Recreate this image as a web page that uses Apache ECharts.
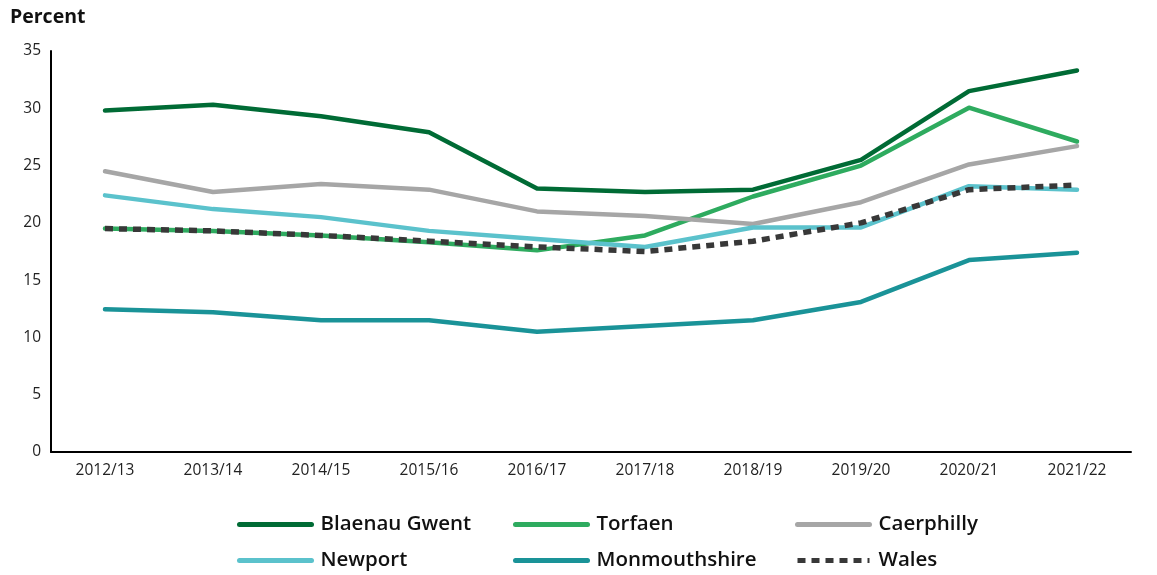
<!DOCTYPE html>
<html><head><meta charset="utf-8">
<script src="https://cdn.jsdelivr.net/npm/echarts@6/dist/echarts.min.js"></script>
<style>html,body{margin:0;padding:0;background:#fff}#c{width:1157px;height:575px}</style>
</head><body><div id="c"></div>
<script>
const categories = ['2012/13','2013/14','2014/15','2015/16','2016/17','2017/18','2018/19','2019/20','2020/21','2021/22'];
const blaenauGwent = [29.8,30.3,29.3,27.9,23.0,22.7,22.9,25.5,31.5,33.3];
const torfaen = [19.5,19.3,18.9,18.3,17.6,18.9,22.3,25.0,30.05,27.1];
const caerphilly = [24.5,22.7,23.4,22.9,21.0,20.6,19.9,21.8,25.1,26.7];
const newport = [22.4,21.2,20.5,19.3,18.6,17.9,19.6,19.6,23.2,22.9];
const monmouthshire = [12.45,12.2,11.5,11.5,10.5,11.0,11.5,13.1,16.75,17.4];
const wales = [19.5,19.3,18.9,18.4,17.9,17.5,18.4,20.0,22.9,23.3];
const yTicks = [0,5,10,15,20,25,30,35];

const FONT = 'Open Sans';
const seriesDefs = [
  {name:'Blaenau Gwent', data: blaenauGwent, color:'#006b35'},
  {name:'Torfaen', data: torfaen, color:'#2eab5f'},
  {name:'Caerphilly', data: caerphilly, color:'#a6a6a6'},
  {name:'Newport', data: newport, color:'#5bc2cc'},
  {name:'Monmouthshire', data: monmouthshire, color:'#1a9398'},
  {name:'Wales', data: wales, color:'#383838', dotted:true}
];
const legendPos = [[237,514],[513,514],[795,514],[237,550],[513,550],[795,550]];

const chart = echarts.init(document.getElementById('c'), null, {renderer:'canvas'});
chart.setOption({
  backgroundColor:'#fff',
  animation:false,
  textStyle:{fontFamily:FONT},
  grid:{left:51, right:26, top:51, bottom:123},
  legend: seriesDefs.map((s,i)=>({
    data:[s.name], left:legendPos[i][0], top:legendPos[i][1], padding:0,
    itemWidth:72, itemHeight:22, itemGap:10,
    itemStyle:{opacity:0},
    lineStyle:{width:5},
    textStyle:{fontFamily:FONT, fontSize:20.5, fontWeight:600, color:'#111', padding:[0,0,0,4]}
  })),
  xAxis:{
    type:'category', data:categories, boundaryGap:true,
    axisLine:{lineStyle:{color:'#000', width:2}},
    axisTick:{show:false},
    axisLabel:{color:'#222', fontSize:15.5, fontFamily:FONT, margin:11}
  },
  yAxis:{
    type:'value', min:0, max:35, interval:5,
    name:'Percent', nameLocation:'end', nameGap:24,
    nameTextStyle:{color:'#111', fontSize:19.5, fontWeight:700, fontFamily:FONT, align:'left', padding:[0,0,0,-41]},
    axisLine:{show:true, lineStyle:{color:'#000', width:2}},
    axisTick:{show:false},
    splitLine:{show:false},
    axisLabel:{color:'#222', fontSize:15.5, fontFamily:FONT, margin:10,
      formatter:(v)=> yTicks.includes(v) ? String(v) : ''}
  },
  series: seriesDefs.map(s=>({
    name:s.name, type:'line', data:s.data, symbol:'none', showSymbol:false,
    color:s.color,
    lineStyle: s.dotted ? {color:s.color, width:5.5, type:[8,6], cap:'butt'} : {color:s.color, width:4.5, cap:'round', join:'round'},
    z: s.dotted ? 5 : 2
  }))
});
</script></body></html>
